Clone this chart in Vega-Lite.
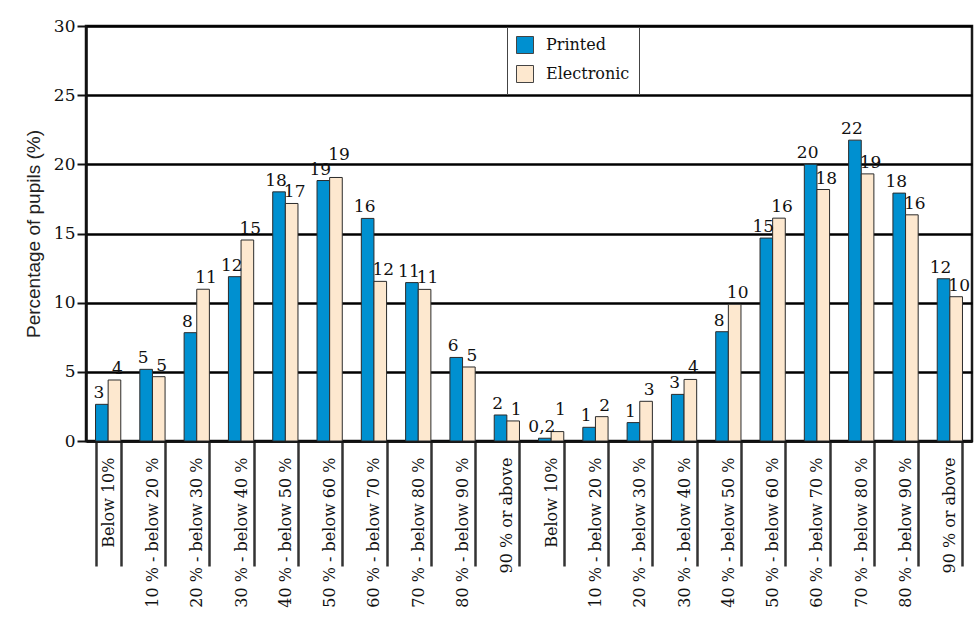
{
  "$schema": "https://vega.github.io/schema/vega-lite/v6.json",
  "width": 886,
  "height": 415,
  "padding": {"left": 24, "top": 17, "right": 3, "bottom": 5},
  "background": "white",
  "config": {
    "view": {"stroke": "#1a1a1a", "strokeWidth": 2.5},
    "font": "DejaVu Serif"
  },
  "data": {
    "values": [
      {"set": 1, "range": "Below 10%", "medium": "Printed", "share": 2.65},
      {"set": 1, "range": "Below 10%", "medium": "Electronic", "share": 4.41},
      {"set": 1, "range": "10 % - below 20 %", "medium": "Printed", "share": 5.18},
      {"set": 1, "range": "10 % - below 20 %", "medium": "Electronic", "share": 4.65},
      {"set": 1, "range": "20 % - below 30 %", "medium": "Printed", "share": 7.83},
      {"set": 1, "range": "20 % - below 30 %", "medium": "Electronic", "share": 10.97},
      {"set": 1, "range": "30 % - below 40 %", "medium": "Printed", "share": 11.88},
      {"set": 1, "range": "30 % - below 40 %", "medium": "Electronic", "share": 14.53},
      {"set": 1, "range": "40 % - below 50 %", "medium": "Printed", "share": 18.01},
      {"set": 1, "range": "40 % - below 50 %", "medium": "Electronic", "share": 17.17},
      {"set": 1, "range": "50 % - below 60 %", "medium": "Printed", "share": 18.83},
      {"set": 1, "range": "50 % - below 60 %", "medium": "Electronic", "share": 19.05},
      {"set": 1, "range": "60 % - below 70 %", "medium": "Printed", "share": 16.09},
      {"set": 1, "range": "60 % - below 70 %", "medium": "Electronic", "share": 11.54},
      {"set": 1, "range": "70 % - below 80 %", "medium": "Printed", "share": 11.45},
      {"set": 1, "range": "70 % - below 80 %", "medium": "Electronic", "share": 10.96},
      {"set": 1, "range": "80 % - below 90 %", "medium": "Printed", "share": 6.04},
      {"set": 1, "range": "80 % - below 90 %", "medium": "Electronic", "share": 5.35},
      {"set": 1, "range": "90 % or above", "medium": "Printed", "share": 1.88},
      {"set": 1, "range": "90 % or above", "medium": "Electronic", "share": 1.45},
      {"set": 2, "range": "Below 10%", "medium": "Printed", "share": 0.2},
      {"set": 2, "range": "Below 10%", "medium": "Electronic", "share": 0.68},
      {"set": 2, "range": "10 % - below 20 %", "medium": "Printed", "share": 0.99},
      {"set": 2, "range": "10 % - below 20 %", "medium": "Electronic", "share": 1.76},
      {"set": 2, "range": "20 % - below 30 %", "medium": "Printed", "share": 1.33},
      {"set": 2, "range": "20 % - below 30 %", "medium": "Electronic", "share": 2.87},
      {"set": 2, "range": "30 % - below 40 %", "medium": "Printed", "share": 3.37},
      {"set": 2, "range": "30 % - below 40 %", "medium": "Electronic", "share": 4.45},
      {"set": 2, "range": "40 % - below 50 %", "medium": "Printed", "share": 7.9},
      {"set": 2, "range": "40 % - below 50 %", "medium": "Electronic", "share": 9.88},
      {"set": 2, "range": "50 % - below 60 %", "medium": "Printed", "share": 14.67},
      {"set": 2, "range": "50 % - below 60 %", "medium": "Electronic", "share": 16.11},
      {"set": 2, "range": "60 % - below 70 %", "medium": "Printed", "share": 20.01},
      {"set": 2, "range": "60 % - below 70 %", "medium": "Electronic", "share": 18.18},
      {"set": 2, "range": "70 % - below 80 %", "medium": "Printed", "share": 21.75},
      {"set": 2, "range": "70 % - below 80 %", "medium": "Electronic", "share": 19.31},
      {"set": 2, "range": "80 % - below 90 %", "medium": "Printed", "share": 17.92},
      {"set": 2, "range": "80 % - below 90 %", "medium": "Electronic", "share": 16.35},
      {"set": 2, "range": "90 % or above", "medium": "Printed", "share": 11.73},
      {"set": 2, "range": "90 % or above", "medium": "Electronic", "share": 10.43}
    ]
  },
  "transform": [
    {"calculate": "datum.set + '|' + datum.range", "as": "slot"},
    {"calculate": "datum.share < 0.5 ? replace(format(datum.share, '.1f'), '.', ',') : format(datum.share, '.0f')", "as": "label"},
    {"joinaggregate": [{"op": "max", "field": "share", "as": "pairMax"}, {"op": "min", "field": "share", "as": "pairMin"}], "groupby": ["slot"]},
    {"calculate": "datum.medium === 'Electronic' && datum.share === datum.pairMax && datum.pairMax - datum.pairMin < 0.5 ? datum.share + 0.8 : datum.share", "as": "labelAt"}
  ],
  "encoding": {
    "x": {
      "field": "slot",
      "type": "nominal",
      "sort": null,
      "scale": {"paddingInner": 0.43, "paddingOuter": 0.215},
      "axis": {
        "title": null,
        "labelAngle": -90,
        "labelExpr": "split(datum.label, '|')[1]",
        "labelFont": "DejaVu Serif",
        "labelFontSize": 16,
        "labelColor": "#111",
        "labelPadding": -109,
        "labelOverlap": false,
        "tickBand": "extent",
        "tickSize": 125,
        "tickWidth": 2.5,
        "tickColor": "#333",
        "domainColor": "#111",
        "domainWidth": 2.5
      }
    },
    "xOffset": {"field": "medium", "sort": ["Printed", "Electronic"]}
  },
  "layer": [
    {
      "mark": {"type": "bar", "stroke": "#2b2b2b", "strokeWidth": 1},
      "encoding": {
        "y": {
          "field": "share",
          "type": "quantitative",
          "scale": {"domain": [0, 30]},
          "axis": {
            "title": "Percentage of pupils (%)",
            "titleFont": "Liberation Sans",
            "titleFontSize": 19,
            "titleFontWeight": "normal",
            "titleColor": "#222",
            "titlePadding": 10,
            "values": [0, 5, 10, 15, 20, 25, 30],
            "grid": true,
            "gridColor": "#000",
            "gridWidth": 2.5,
            "domainColor": "#111",
            "domainWidth": 2.5,
            "tickColor": "#111",
            "tickWidth": 2,
            "tickSize": 9,
            "labelFont": "DejaVu Serif",
            "labelFontSize": 17,
            "labelColor": "#111",
            "labelPadding": 2
          }
        },
        "color": {
          "field": "medium",
          "type": "nominal",
          "scale": {"domain": ["Printed", "Electronic"], "range": ["#0090d0", "#fde8cf"]},
          "legend": {
            "title": null,
            "orient": "none",
            "legendX": 421,
            "legendY": 1,
            "fillColor": "white",
            "strokeColor": "#444",
            "padding": 9,
            "symbolType": "square",
            "symbolSize": 289,
            "symbolStrokeColor": "#444",
            "symbolStrokeWidth": 1,
            "symbolOpacity": 1,
            "labelFont": "DejaVu Serif",
            "labelFontSize": 16,
            "labelColor": "#111",
            "labelOffset": 12,
            "rowPadding": 7
          }
        }
      }
    },
    {
      "transform": [{"filter": "datum.medium === 'Printed'"}],
      "mark": {"type": "text", "baseline": "bottom", "dy": -2, "dx": -3, "font": "DejaVu Serif", "fontSize": 17, "color": "#111"},
      "encoding": {
        "y": {"field": "labelAt", "type": "quantitative"},
        "text": {"field": "label"}
      }
    },
    {
      "transform": [{"filter": "datum.medium === 'Electronic'"}],
      "mark": {"type": "text", "baseline": "bottom", "dy": -2, "dx": 3, "font": "DejaVu Serif", "fontSize": 17, "color": "#111"},
      "encoding": {
        "y": {"field": "labelAt", "type": "quantitative"},
        "text": {"field": "label"}
      }
    }
  ]
}
